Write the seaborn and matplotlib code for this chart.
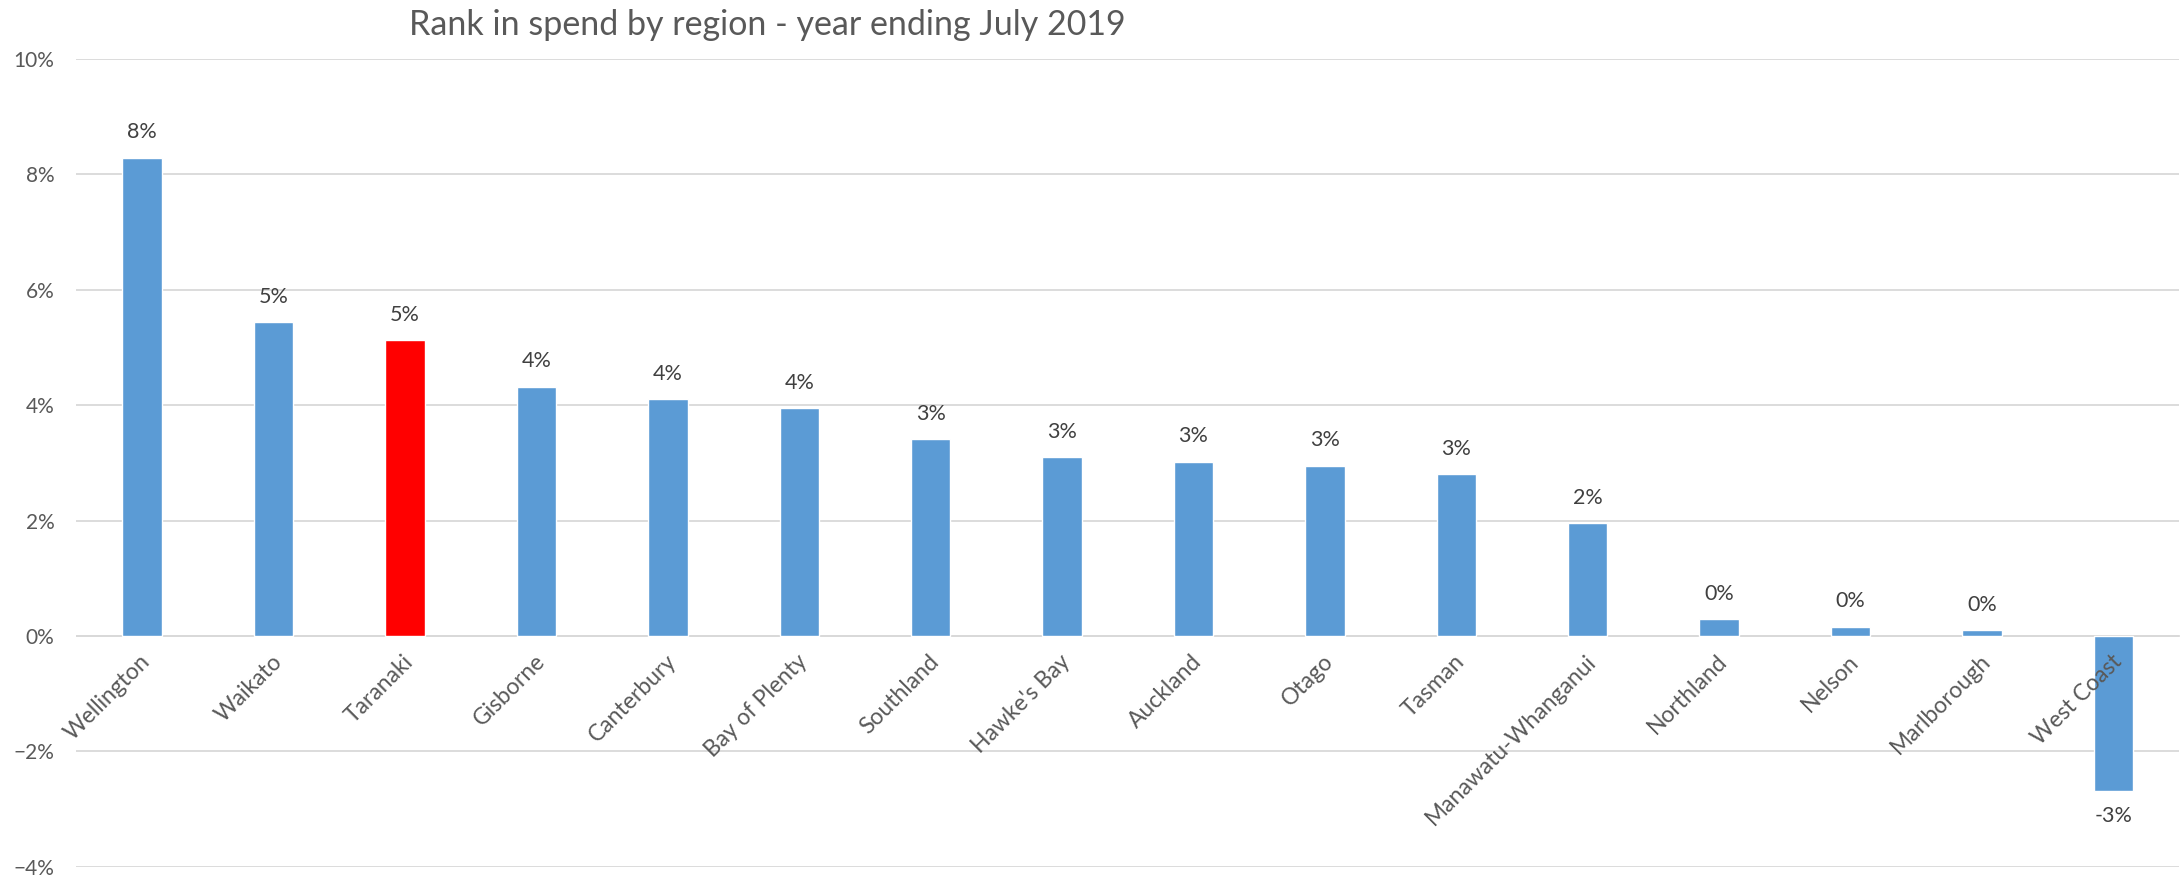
import matplotlib
matplotlib.use("Agg")
import matplotlib.pyplot as plt
import matplotlib.transforms as mtransforms
from matplotlib.ticker import PercentFormatter
import seaborn as sns
import pandas as pd

# Annual change in spend by region, in percent
regions = ["Wellington", "Waikato", "Taranaki", "Gisborne", "Canterbury",
           "Bay of Plenty", "Southland", "Hawke's Bay", "Auckland", "Otago",
           "Tasman", "Manawatu-Whanganui", "Northland", "Nelson",
           "Marlborough", "West Coast"]
spend_change = [8.29, 5.44, 5.13, 4.32, 4.11, 3.95, 3.41, 3.10, 3.02, 2.95,
                2.81, 1.96, 0.29, 0.16, 0.10, -2.69]
highlight = "Taranaki"

title = "Rank in spend by region - year ending July 2019"
y_ticks = [-4, -2, 0, 2, 4, 6, 8, 10]

BLUE = "#5B9BD5"
RED = "#FF0000"
GRID = "#D9D9D9"
TEXT = "#595959"
LABEL = "#404040"

sns.set_theme(style="white")
plt.rcParams["font.family"] = ["Lato", "DejaVu Sans"]

df = pd.DataFrame({"region": regions, "change": spend_change})
palette = {r: (RED if r == highlight else BLUE) for r in regions}

fig = plt.figure(figsize=(21.82, 8.77), dpi=100)
ax = fig.add_axes([76.5 / 2182, 1 - 866.7 / 877, (2179 - 76.5) / 2182, (866.7 - 59) / 877])

sns.barplot(data=df, x="region", y="change", hue="region", palette=palette,
            legend=False, width=0.3, saturation=1, ax=ax)
for patch in ax.patches:
    patch.set_zorder(2)

ax.set_ylim(-4, 10)
ax.set_yticks(y_ticks)
ax.yaxis.set_major_formatter(PercentFormatter(decimals=0))
ax.set_xlim(-0.5, len(regions) - 0.5)
ax.set_xlabel("")
ax.set_ylabel("")

ax.grid(axis="y", color=GRID, linewidth=1.3)
ax.grid(axis="x", visible=False)
for side in ["left", "right", "top"]:
    ax.spines[side].set_visible(False)
ax.spines["bottom"].set_position(("data", 0))
ax.spines["bottom"].set_color(GRID)
ax.spines["bottom"].set_linewidth(1.3)
ax.spines["bottom"].set_zorder(1)

# gridlines stay behind the bars, category names sit on top of them
ax.yaxis.set_zorder(1)
ax.xaxis.set_zorder(4)

ax.tick_params(axis="y", length=0, pad=16, labelsize=15, labelcolor=TEXT)
ax.tick_params(axis="x", length=0, pad=16, labelsize=16.5, labelcolor=TEXT)
offset = mtransforms.ScaledTranslation(5 / 100, 0, fig.dpi_scale_trans)
for lab in ax.get_xticklabels():
    lab.set_rotation(45)
    lab.set_ha("right")
    lab.set_va("center")
    lab.set_rotation_mode("anchor")
    lab.set_transform(lab.get_transform() + offset)

for container in ax.containers:
    ax.bar_label(container, labels=[f"{v:.0f}%" for v in container.datavalues],
                 padding=11, fontsize=15.5, color=LABEL)

fig.text(767 / 2182, 1 - 25 / 877, title, ha="center", va="center",
         fontsize=24.5, color=TEXT)

fig.savefig("out.png", dpi=100)
